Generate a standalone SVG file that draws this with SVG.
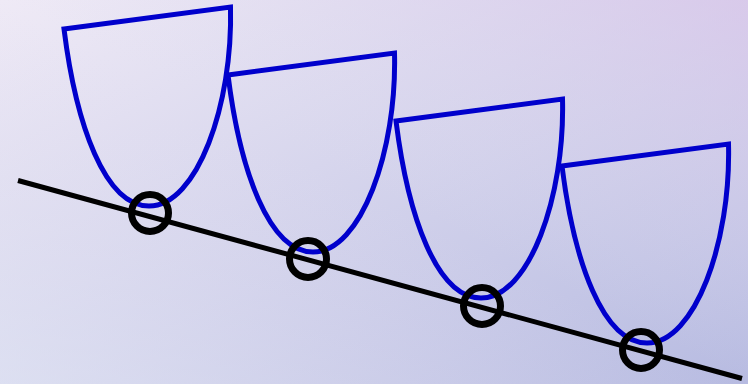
<svg xmlns="http://www.w3.org/2000/svg" xmlns:xlink="http://www.w3.org/1999/xlink" width="748" height="384" viewBox="0 0 748 384">
  <defs>
    <linearGradient id="bg" x1="0" y1="0" x2="1" y2="1">
      <stop offset="0" stop-color="#EFEAF6"/>
      <stop offset="1" stop-color="#B7BBE1"/>
    </linearGradient>
    <linearGradient id="bg2" x1="0" y1="1" x2="1" y2="0">
      <stop offset="0" stop-color="#E6ECF7" stop-opacity="0.5"/>
      <stop offset="0.5" stop-color="#E0DDF0" stop-opacity="0"/>
      <stop offset="1" stop-color="#DCC4EA" stop-opacity="0.6"/>
    </linearGradient>
    <path id="cup" d="M64,29 L230.5,7 C233,105 197,206 149,206 C105,206 76,125 64,29 Z"/>
    <style>
      .cup { fill: none; stroke: #0000CC; stroke-width: 5; stroke-linejoin: miter; }
      .axis { fill: none; stroke: #000000; stroke-width: 5; stroke-linecap: butt; }
      .ring { fill: none; stroke: #000000; stroke-width: 7; }
    </style>
  </defs>
  <rect x="0" y="0" width="748" height="384" fill="url(#bg)"/>
  <rect x="0" y="0" width="748" height="384" fill="url(#bg2)"/>
  <g id="cup1"><use xlink:href="#cup" class="cup"/></g>
  <g id="cup2"><use xlink:href="#cup" class="cup" transform="translate(164,46)"/></g>
  <g id="cup3"><use xlink:href="#cup" class="cup" transform="translate(332,92)"/></g>
  <g id="cup4"><use xlink:href="#cup" class="cup" transform="translate(498,137)"/></g>
  <g id="connectors">
    <line class="axis" x1="18" y1="180.5" x2="742" y2="378.5"/>
  </g>
  <g id="ring1"><circle class="ring" cx="150" cy="213" r="18.5"/></g>
  <g id="ring2"><circle class="ring" cx="308" cy="259" r="18.5"/></g>
  <g id="ring3"><circle class="ring" cx="482" cy="306" r="18.5"/></g>
  <g id="ring4"><circle class="ring" cx="641" cy="350" r="18.5"/></g>
</svg>
